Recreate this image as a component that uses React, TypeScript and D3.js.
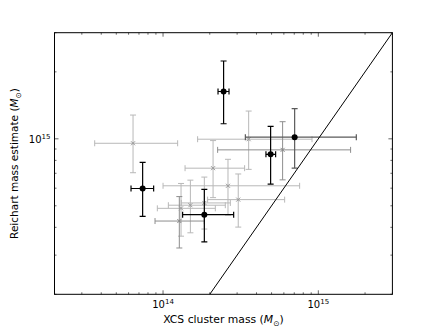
import React from 'react';
import * as d3 from 'd3';

const W = 436;
const H = 327;
const margin = { top: 32.7, right: 43.6, bottom: 32.7, left: 54.5 };

const xDomain = [2e13, 3e15];
const yDomain = [2e14, 3e15];
const xMajor = [1e14, 1e15];
const yMajor = [1e15];
const oneToOne = [2e14, 3e15];

// [x, xLow, xHigh, y, yLow, yHigh] in units of 1e14 Msun
const lightPoints = [
  [0.641, 0.363, 1.242, 9.55, 7.04, 12.79],
  [2.1, 1.386, 3.353, 7.38, 5.44, 9.82],
  [3.56, 1.67, 9.11, 9.96, 7.29, 13.33],
  [2.62, 1.0, 7.58, 6.15, 4.54, 8.09],
  [3.05, 1.937, 6.07, 5.33, 4.01, 6.95],
  [1.845, 1.311, 2.713, 5.15, 3.93, 6.73],
  [1.5, 1.082, 2.518, 5.03, 3.78, 6.52],
  [1.306, 0.919, 2.172, 4.87, 3.65, 6.3],
];
const midPoints = [
  [5.89, 2.247, 16.14, 8.92, 6.54, 11.94],
  [1.273, 0.888, 1.845, 4.27, 3.23, 5.5],
];
const blackPoints = [
  [0.739, 0.622, 0.87, 5.98, 4.48, 7.84],
  [1.845, 1.337, 2.85, 4.56, 3.44, 5.92],
  [2.455, 2.26, 2.66, 16.32, 11.69, 22.38],
  [4.93, 4.6, 5.31, 8.52, 6.26, 11.37],
];
const dimBlackPoints = [
  [7.04, 3.39, 17.57, 10.17, 7.39, 13.67],
];

const UNIT = 1e14;

const App = () => {
  const iw = W - margin.left - margin.right;
  const ih = H - margin.top - margin.bottom;
  const x = d3.scaleLog().domain(xDomain).range([0, iw]);
  const y = d3.scaleLog().domain(yDomain).range([ih, 0]);

  const xTicks = x.ticks();
  const yTicks = y.ticks();
  const isMajor = (v) => Math.abs(Math.log10(v) - Math.round(Math.log10(v))) < 1e-6;

  const diag = d3.line().x(d => x(d)).y(d => y(d))(oneToOne);

  const errBars = (pts, color, sw, key) =>
    pts.map((p, i) => {
      const cx = x(p[0] * UNIT), x0 = x(p[1] * UNIT), x1 = x(p[2] * UNIT);
      const cy = y(p[3] * UNIT), y0 = y(p[4] * UNIT), y1 = y(p[5] * UNIT);
      const c = 3;
      return (
        <g key={key + i} stroke={color} strokeWidth={sw} fill="none">
          <line x1={x0} x2={x1} y1={cy} y2={cy} />
          <line x1={x0} x2={x0} y1={cy - c} y2={cy + c} />
          <line x1={x1} x2={x1} y1={cy - c} y2={cy + c} />
          <line x1={cx} x2={cx} y1={y0} y2={y1} />
          <line x1={cx - c} x2={cx + c} y1={y0} y2={y0} />
          <line x1={cx - c} x2={cx + c} y1={y1} y2={y1} />
        </g>
      );
    });

  const crosses = (pts, color, key) =>
    pts.map((p, i) => {
      const cx = x(p[0] * UNIT), cy = y(p[3] * UNIT);
      const s = 2;
      return (
        <g key={key + i} stroke={color} strokeWidth={1}>
          <line x1={cx - s} x2={cx + s} y1={cy - s} y2={cy + s} />
          <line x1={cx - s} x2={cx + s} y1={cy + s} y2={cy - s} />
        </g>
      );
    });

  const dots = (pts, key) =>
    pts.map((p, i) => (
      <circle key={key + i} cx={x(p[0] * UNIT)} cy={y(p[3] * UNIT)} r={3} fill="#000" />
    ));

  const font = "'DejaVu Sans', sans-serif";

  return (
    <svg width={W} height={H} style={{ position: 'absolute', left: 0, top: 0, background: '#fff' }}>
      <defs>
        <clipPath id="plot">
          <rect x={0} y={0} width={iw} height={ih} />
        </clipPath>
      </defs>
      <g transform={`translate(${margin.left},${margin.top})`}>
        <g clipPath="url(#plot)">
          {errBars(lightPoints, '#b8b8b8', 1, 'lb')}
          {errBars(midPoints, '#8e8e8e', 1, 'mb')}
          {crosses(lightPoints, '#999', 'lc')}
          {crosses(midPoints, '#888', 'mc')}
          {errBars(dimBlackPoints, '#5a5a5a', 1.2, 'db')}
          {errBars(blackPoints, '#000', 1.2, 'bb')}
          {dots(dimBlackPoints, 'dd')}
          {dots(blackPoints, 'bd')}
          <path d={diag} stroke="#000" strokeWidth={1} fill="none" />
        </g>
        {xTicks.map((t, i) => {
          const len = isMajor(t) ? 4 : 2;
          const px = x(t);
          return (
            <g key={'xt' + i} stroke="#000" strokeWidth={0.6}>
              <line x1={px} x2={px} y1={ih} y2={ih - len} />
              <line x1={px} x2={px} y1={0} y2={len} />
            </g>
          );
        })}
        {yTicks.map((t, i) => {
          const len = isMajor(t) ? 4 : 2;
          const py = y(t);
          return (
            <g key={'yt' + i} stroke="#000" strokeWidth={0.6}>
              <line x1={0} x2={len} y1={py} y2={py} />
              <line x1={iw} x2={iw - len} y1={py} y2={py} />
            </g>
          );
        })}
        <rect x={0} y={0} width={iw} height={ih} fill="none" stroke="#000" strokeWidth={1} />
        {xMajor.map((t, i) => (
          <text key={'xl' + i} x={x(t)} y={ih + 14} textAnchor="middle" fontFamily={font} fontSize={10}>
            10<tspan fontSize={7} dy={-4}>{Math.round(Math.log10(t))}</tspan>
          </text>
        ))}
        {yMajor.map((t, i) => (
          <text key={'yl' + i} x={-4} y={y(t) + 4} textAnchor="end" fontFamily={font} fontSize={10}>
            10<tspan fontSize={7} dy={-4}>{Math.round(Math.log10(t))}</tspan>
          </text>
        ))}
        <text x={iw / 2} y={ih + 29} textAnchor="middle" fontFamily={font} fontSize={10.8}>
          XCS cluster mass (<tspan fontStyle="italic">M</tspan>
          <tspan fontSize={7.5} dy={3}>⊙</tspan>
          <tspan dy={-3}>)</tspan>
        </text>
        <text
          transform={`translate(${-37},${ih / 2}) rotate(-90)`}
          textAnchor="middle"
          fontFamily={font}
          fontSize={10.5}
        >
          Reichart mass estimate (<tspan fontStyle="italic">M</tspan>
          <tspan fontSize={7.5} dy={3}>⊙</tspan>
          <tspan dy={-3}>)</tspan>
        </text>
      </g>
    </svg>
  );
};

export default App;
